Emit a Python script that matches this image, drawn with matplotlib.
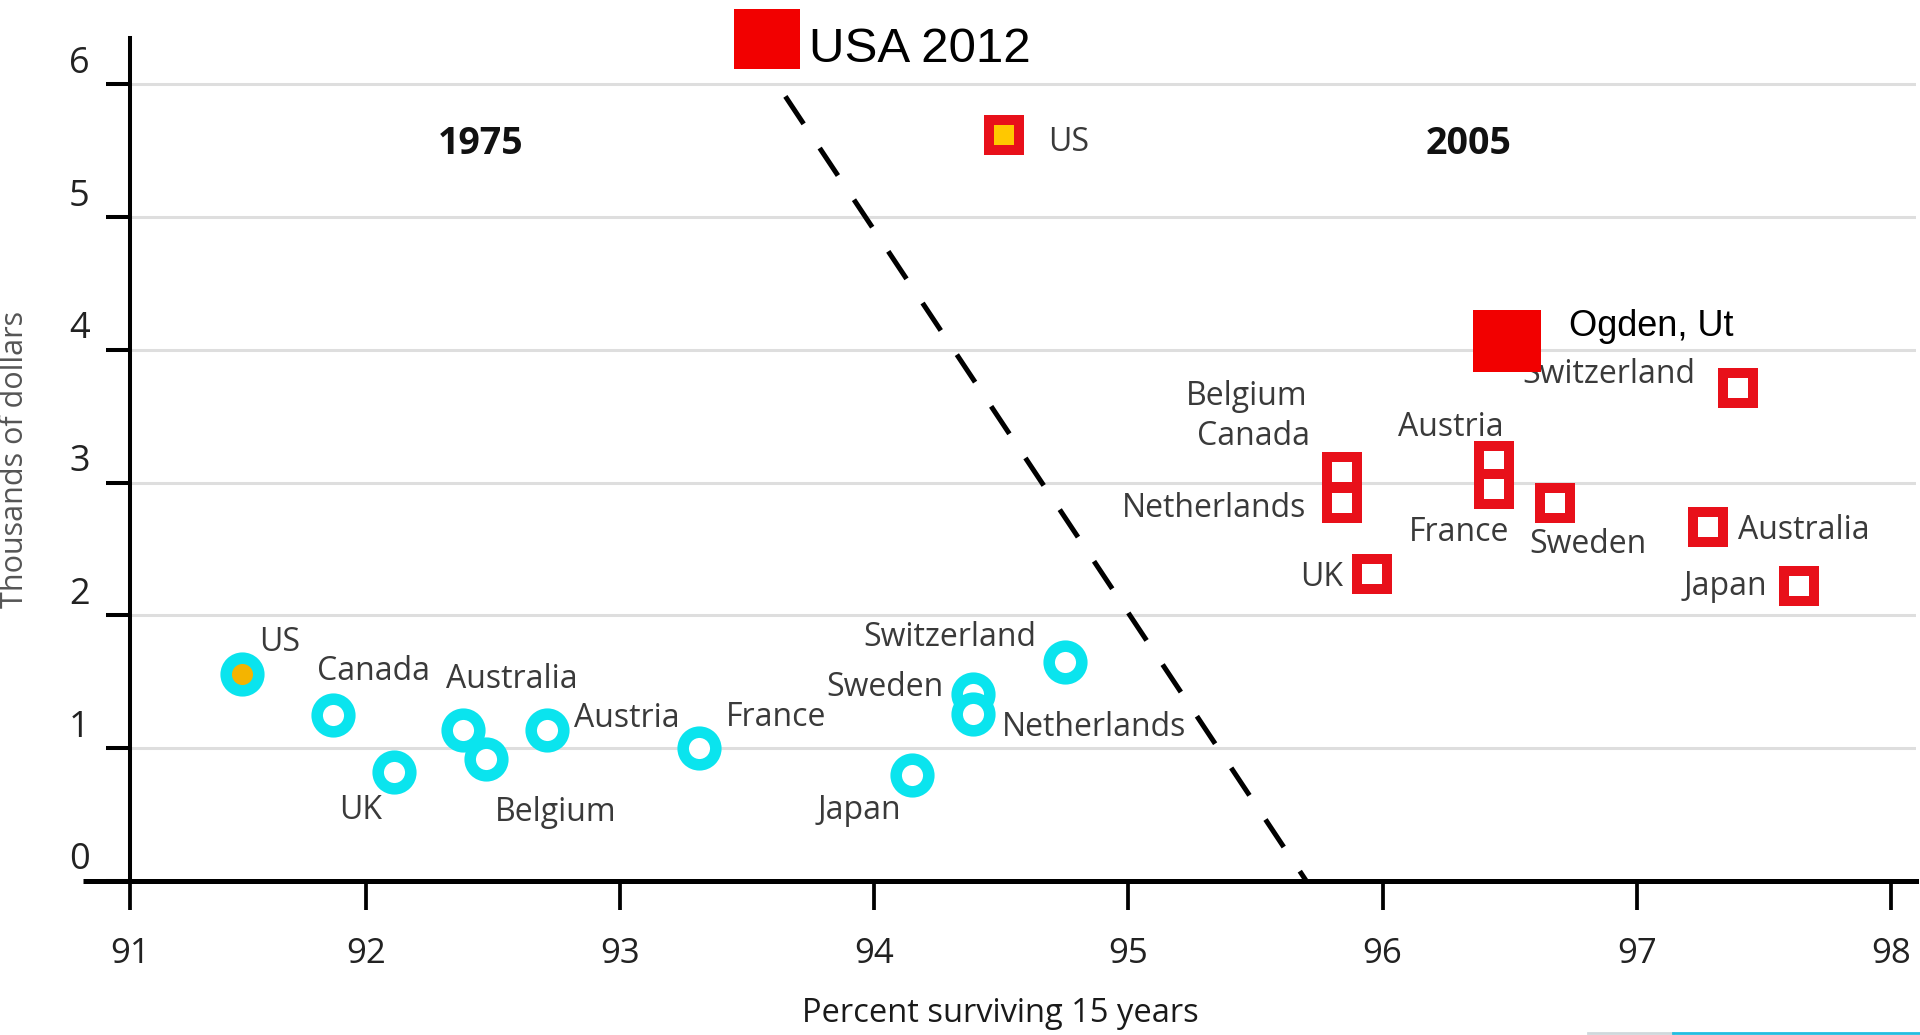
import matplotlib
matplotlib.use("Agg")
import matplotlib.pyplot as plt
from matplotlib.transforms import ScaledTranslation
from matplotlib.lines import Line2D

plt.rcParams['font.family'] = ['Open Sans', 'DejaVu Sans']

# 1975 spending vs survival (circles)
countries_1975 = ['US', 'Canada', 'UK', 'Australia', 'Belgium', 'Austria',
                  'France', 'Japan', 'Sweden', 'Netherlands', 'Switzerland']
surv_1975 = [91.51, 91.87, 92.11, 92.38, 92.47, 92.71, 93.31, 94.15, 94.39, 94.39, 94.75]
cost_1975 = [1.56, 1.25, 0.82, 1.14, 0.92, 1.14, 1.00, 0.80, 1.41, 1.26, 1.65]

# 2005 (squares)
countries_2005 = ['US', 'Switzerland', 'Belgium', 'Canada', 'Netherlands', 'Austria',
                  'France', 'Sweden', 'Australia', 'UK', 'Japan']
surv_2005 = [94.51, 97.40, 95.84, 95.84, 95.84, 96.44, 96.44, 96.68, 97.28, 95.96, 97.64]
cost_2005 = [5.62, 3.71, 3.08, 3.08, 2.85, 3.16, 2.95, 2.85, 2.67, 2.31, 2.22]

# added points
extra_names = ['USA 2012', 'Ogden, Ut']
extra_x = [93.576, 96.49]
extra_y = [6.345, 4.07]

# dashed divider
div_x = [93.65, 95.70]
div_y = [5.91, 0.0]

x_ticks = [91, 92, 93, 94, 95, 96, 97, 98]
y_ticks = [0, 1, 2, 3, 4, 5, 6]

# label placement (ha, dx, dy) in points
lab_1975 = {
    'US': ('left', 12.8, 22.9), 'Canada': ('left', -11.9, 31.7),
    'Australia': ('left', -11.9, 36.1), 'Austria': ('left', 19.8, 7.9),
    'France': ('left', 19, 22), 'UK': ('right', -8.4, -27.3),
    'Belgium': ('left', 7, -38.8), 'Japan': ('right', -7.9, -25.6),
    'Sweden': ('right', -21.2, 4.4), 'Netherlands': ('left', 20.3, -9.7),
    'Switzerland': ('right', -20.7, 17.6),
}
lab_2005 = {
    'US': ('left', 31.7, -5.3), 'Switzerland': ('right', -30.9, 9.7),
    'Belgium': ('right', -24.7, 54.7), 'Canada': ('right', -22.9, 25.6),
    'Netherlands': ('right', -25.6, -4.4), 'Austria': ('right', 7, 24.7),
    'France': ('right', 10.6, -30.9), 'Sweden': ('left', -18.5, -30),
    'Australia': ('left', 22, -2.6), 'UK': ('right', -21.2, -2.6),
    'Japan': ('right', -22.9, 0),
}

cyan = '#0ae4ee'
red = '#e8101a'
label_col = '#3a3a3a'

fig = plt.figure(figsize=(19.2, 10.35), dpi=100)
ax = fig.add_axes([0.0676, 0.1488, 0.9304, 0.8145])
x_left = 91.07
ax.set_xlim(x_left, 98.10)
ax.set_ylim(0, 6.35)

for s in ['top', 'right']:
    ax.spines[s].set_visible(False)
ax.spines['left'].set_linewidth(2.9)
ax.spines['bottom'].set_linewidth(3.6)
ax.plot([90.886, x_left], [0, 0], color='black', lw=3.6, clip_on=False,
        solid_capstyle='butt')

ax.set_xticks([x_left] + x_ticks[1:])
ax.set_xticklabels([str(t) for t in x_ticks], fontsize=25, color='#222222')
ax.set_yticks(y_ticks)
ax.set_yticklabels([str(t) for t in y_ticks], fontsize=26, color='#222222')
ax.tick_params(axis='x', length=21, width=2.7, pad=19)
ax.tick_params(axis='y', length=17, width=2.9, pad=12)
for lab in ax.get_yticklabels():
    lab.set_transform(lab.get_transform() + ScaledTranslation(0, 0.25, fig.dpi_scale_trans))

ax.yaxis.grid(True, color='#dedede', lw=2.2)
ax.set_axisbelow(True)

ax.plot(div_x, div_y, color='black', lw=3.6, ls=(0, (6.6, 5.8)), zorder=2)

for name, x, y in zip(countries_1975, surv_1975, cost_1975):
    fc = '#f4b400' if name == 'US' else 'white'
    ax.plot(x, y, 'o', ms=23.5, mfc=fc, mec=cyan, mew=8.3, zorder=3)
    ha, dx, dy = lab_1975[name]
    ax.annotate(name, (x, y), xytext=(dx, dy), textcoords='offset points',
                ha=ha, va='center', fontsize=23, color=label_col)

for name, x, y in zip(countries_2005, surv_2005, cost_2005):
    fc = '#ffc800' if name == 'US' else 'white'
    ax.plot(x, y, 's', ms=21, mfc=fc, mec=red, mew=7.2, zorder=3)
    ha, dx, dy = lab_2005[name]
    ax.annotate(name, (x, y), xytext=(dx, dy), textcoords='offset points',
                ha=ha, va='center', fontsize=23, color=label_col)

ax.text(92.45, 5.55, '1975', fontsize=27, fontweight='bold', ha='center', va='center',
        color='#111111')
ax.text(96.34, 5.55, '2005', fontsize=27, fontweight='bold', ha='center', va='center',
        color='#111111')

rect = [(-1, -0.89), (1, -0.89), (1, 0.89), (-1, 0.89)]
ax.plot(extra_x[0], extra_y[0], marker=rect, ms=48, color='#f20000', mew=0,
        clip_on=False, zorder=5)
ax.annotate(extra_names[0], (extra_x[0], extra_y[0]), xytext=(30.6, -8),
            textcoords='offset points', ha='left', va='center', fontsize=35.5,
            family='Liberation Sans', color='black', annotation_clip=False)
ax.plot(extra_x[1], extra_y[1], marker=rect, ms=49.5, color='#f20000', mew=0,
        zorder=5)
ax.annotate(extra_names[1], (extra_x[1], extra_y[1]), xytext=(44.3, 10),
            textcoords='offset points', ha='left', va='center', fontsize=26,
            family='Liberation Sans', color='black')

fig.text(0.521, 0.021, 'Percent surviving 15 years', fontsize=23.5, ha='center',
         va='center', color='#1a1a1a')
fig.text(0.0078, 0.5565, 'Thousands of dollars', fontsize=22, rotation=90,
         ha='center', va='center', color='#555555')

# strip at bottom right edge
fig.add_artist(Line2D([1588 / 1920, 1673 / 1920], [0.0015, 0.0015], color='#cfd8dc', lw=2))
fig.add_artist(Line2D([1673 / 1920, 1.0], [0.0015, 0.0015], color='#22bde0', lw=2))

fig.savefig('out.png', dpi=100)
